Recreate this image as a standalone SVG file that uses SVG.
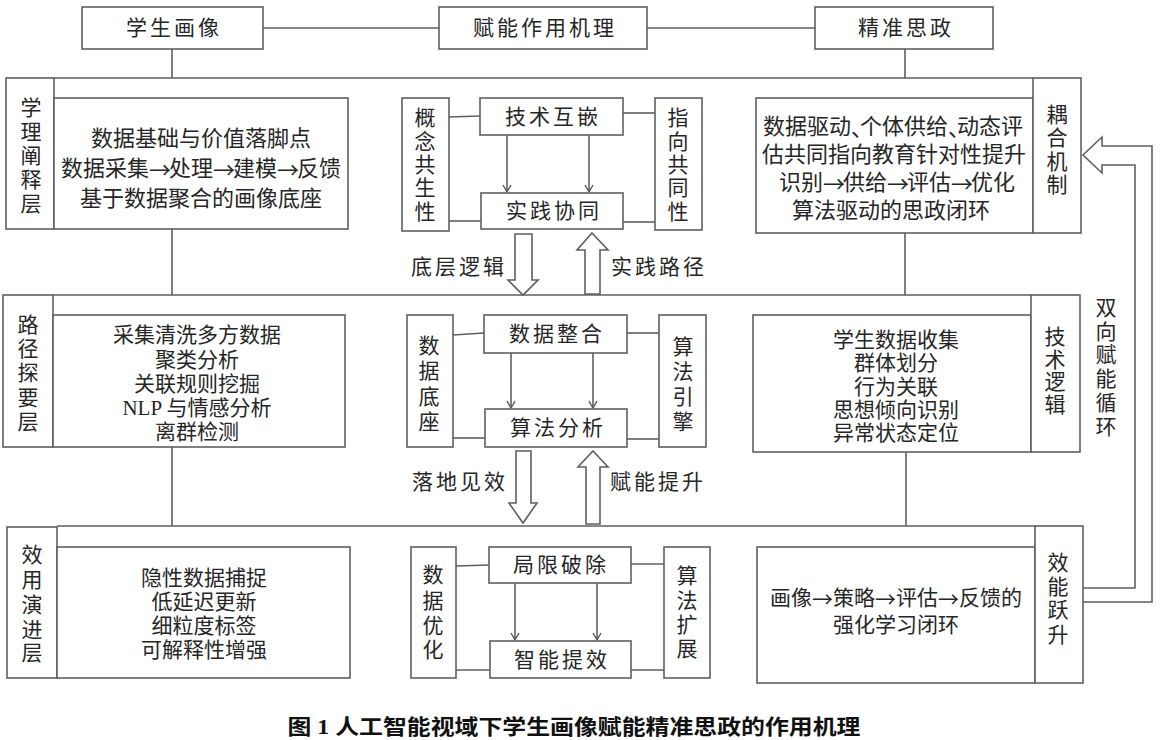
<svg xmlns="http://www.w3.org/2000/svg" width="1163" height="740" viewBox="0 0 1163 740">
<defs>
<style>
text{font-family:"Liberation Serif","Noto Sans CJK SC",serif;fill:#262626;dominant-baseline:central;text-anchor:middle}
.t{font-size:22px}
.s{font-size:21px}
.h{font-size:21px;letter-spacing:3px}
.v{font-size:21px}
.ar{font-family:"Noto Sans CJK SC",sans-serif;letter-spacing:-2px}
.dun{font-family:"Noto Sans CJK SC",sans-serif;letter-spacing:-13px}
.cap{font-size:21px;font-weight:bold;fill:#111}
.box{fill:#fff;stroke:#5f5f5f;stroke-width:1.6}
.ln{stroke:#5f5f5f;stroke-width:1.6;fill:none}
.blk{fill:#fff;stroke:#5f5f5f;stroke-width:1.6;stroke-linejoin:miter}
</style>
<marker id="ah" markerWidth="10" markerHeight="10" refX="8" refY="5" orient="auto" markerUnits="userSpaceOnUse">
<polyline points="1,1 8,5 1,9" fill="none" stroke="#5f5f5f" stroke-width="1.5"/>
</marker>
</defs>
<rect width="1163" height="740" fill="#fff"/>

<g id="connectors">
<line class="ln" x1="263" y1="28" x2="439" y2="28"/>
<line class="ln" x1="647" y1="28" x2="815" y2="28"/>
<line class="ln" x1="172" y1="49" x2="172" y2="78"/>
<line class="ln" x1="905" y1="49" x2="905" y2="78"/>
<line class="ln" x1="54" y1="78" x2="1033" y2="78"/>
<line class="ln" x1="53" y1="295" x2="1031" y2="295"/>
<line class="ln" x1="57" y1="526" x2="1035" y2="526"/>
<line class="ln" x1="172" y1="229" x2="172" y2="295"/>
<line class="ln" x1="172" y1="447" x2="172" y2="526"/>
<line class="ln" x1="905" y1="233" x2="905" y2="295"/>
<line class="ln" x1="906" y1="452" x2="906" y2="526"/>
<line class="ln" x1="449" y1="117" x2="480" y2="116"/>
<line class="ln" x1="623" y1="113" x2="655" y2="113"/>
<line class="ln" x1="449" y1="221" x2="481" y2="221"/>
<line class="ln" x1="623" y1="222" x2="655" y2="222"/>
<line class="ln" x1="507" y1="135" x2="507" y2="192" marker-end="url(#ah)"/>
<line class="ln" x1="589" y1="135" x2="589" y2="192" marker-end="url(#ah)"/>
<line class="ln" x1="453" y1="335" x2="484" y2="333"/>
<line class="ln" x1="627" y1="333" x2="659" y2="333"/>
<line class="ln" x1="453" y1="438" x2="485" y2="438"/>
<line class="ln" x1="627" y1="439" x2="659" y2="439"/>
<line class="ln" x1="511" y1="353" x2="511" y2="408" marker-end="url(#ah)"/>
<line class="ln" x1="593" y1="353" x2="593" y2="408" marker-end="url(#ah)"/>
<line class="ln" x1="456" y1="566" x2="489" y2="565"/>
<line class="ln" x1="631" y1="564" x2="664" y2="564"/>
<line class="ln" x1="456" y1="670" x2="490" y2="670"/>
<line class="ln" x1="631" y1="670" x2="664" y2="670"/>
<line class="ln" x1="515" y1="583" x2="515" y2="640" marker-end="url(#ah)"/>
<line class="ln" x1="597" y1="583" x2="597" y2="640" marker-end="url(#ah)"/>
<path class="blk" d="M515,234 H532 V280 H538 L523,295 L508,280 H515 Z"/>
<path class="blk" d="M592,233 L608,250 H600 V294 H585 V250 H577 Z"/>
<path class="blk" d="M516,451 H531 V503 H537 L523,523 L509,503 H516 Z"/>
<path class="blk" d="M593,451 L608,467 H600 V524 H586 V467 H578 Z"/>
<path class="ln" d="M1083,602 H1152 V146 H1102 V137 L1083,155 L1102,173 V165 H1135 V588 H1083"/>
</g>

<g id="hdr-xsxx"><rect class="box" x="82" y="7" width="181" height="42"/><text class="h" x="174" y="28">学生画像</text></g>
<g id="hdr-fnzy"><rect class="box" x="439" y="7" width="208" height="42"/><text class="h" x="545" y="28">赋能作用机理</text></g>
<g id="hdr-jzsz"><rect class="box" x="815" y="7" width="178" height="42"/><text class="h" x="906" y="28">精准思政</text></g>

<g id="row1-left">
<rect class="box" x="6" y="78" width="48" height="151"/>
<text class="v"><tspan x="31" y="108">学</tspan><tspan x="31" y="132">理</tspan><tspan x="31" y="156">阐</tspan><tspan x="31" y="180">释</tspan><tspan x="31" y="204">层</tspan></text>
<rect class="box" x="54" y="98" width="294" height="131"/>
<text class="t"><tspan x="201" y="138">数据基础与价值落脚点</tspan><tspan x="201" y="168">数据采集<tspan class="ar">→</tspan>处理<tspan class="ar">→</tspan>建模<tspan class="ar">→</tspan>反馈</tspan><tspan x="201" y="198">基于数据聚合的画像底座</tspan></text>
</g>

<g id="row1-mid">
<rect class="box" x="402" y="98" width="47" height="133"/>
<text class="v"><tspan x="425" y="118">概</tspan><tspan x="425" y="142">念</tspan><tspan x="425" y="165">共</tspan><tspan x="425" y="188">生</tspan><tspan x="425" y="212">性</tspan></text>
<rect class="box" x="480" y="98" width="143" height="37"/><text class="h" x="553" y="117">技术互嵌</text>
<rect class="box" x="481" y="193" width="142" height="36"/><text class="h" x="554" y="211">实践协同</text>
<rect class="box" x="655" y="98" width="47" height="132"/>
<text class="v"><tspan x="678" y="118">指</tspan><tspan x="678" y="142">向</tspan><tspan x="678" y="165">共</tspan><tspan x="678" y="188">同</tspan><tspan x="678" y="212">性</tspan></text>
<text class="h" x="459" y="267">底层逻辑</text>
<text class="h" x="659" y="267">实践路径</text>
</g>

<g id="row1-right">
<rect class="box" x="756" y="98" width="277" height="135"/>
<text class="t"><tspan x="893" y="126">数据驱动<tspan class="dun">、</tspan>个体供给<tspan class="dun">、</tspan>动态评</tspan><tspan x="894" y="154">估共同指向教育针对性提升</tspan><tspan x="897" y="182">识别<tspan class="ar">→</tspan>供给<tspan class="ar">→</tspan>评估<tspan class="ar">→</tspan>优化</tspan><tspan x="891" y="210">算法驱动的思政闭环</tspan></text>
<rect class="box" x="1033" y="78" width="48" height="155"/>
<text class="v"><tspan x="1057" y="115">耦</tspan><tspan x="1057" y="138">合</tspan><tspan x="1057" y="162">机</tspan><tspan x="1057" y="185">制</tspan></text>
</g>

<g id="row2-left">
<rect class="box" x="3" y="295" width="50" height="152"/>
<text class="v"><tspan x="28" y="325">路</tspan><tspan x="28" y="349">径</tspan><tspan x="28" y="373">探</tspan><tspan x="28" y="398">要</tspan><tspan x="28" y="422">层</tspan></text>
<rect class="box" x="53" y="315" width="292" height="132"/>
<text class="s"><tspan x="197" y="335">采集清洗多方数据</tspan><tspan x="197" y="360">聚类分析</tspan><tspan x="197" y="384">关联规则挖掘</tspan><tspan x="197" y="408">NLP 与情感分析</tspan><tspan x="197" y="432">离群检测</tspan></text>
</g>

<g id="row2-mid">
<rect class="box" x="407" y="315" width="46" height="132"/>
<text class="v"><tspan x="429" y="346">数</tspan><tspan x="429" y="371">据</tspan><tspan x="429" y="397">底</tspan><tspan x="429" y="422">座</tspan></text>
<rect class="box" x="484" y="315" width="143" height="38"/><text class="h" x="557" y="334">数据整合</text>
<rect class="box" x="485" y="409" width="142" height="38"/><text class="h" x="558" y="428">算法分析</text>
<rect class="box" x="659" y="315" width="47" height="132"/>
<text class="v"><tspan x="683" y="347">算</tspan><tspan x="683" y="372">法</tspan><tspan x="683" y="397">引</tspan><tspan x="683" y="422">擎</tspan></text>
<text class="h" x="460" y="482">落地见效</text>
<text class="h" x="658" y="482">赋能提升</text>
</g>

<g id="row2-right">
<rect class="box" x="753" y="315" width="278" height="137"/>
<text class="s"><tspan x="896" y="340">学生数据收集</tspan><tspan x="896" y="363">群体划分</tspan><tspan x="896" y="387">行为关联</tspan><tspan x="896" y="410">思想倾向识别</tspan><tspan x="896" y="433">异常状态定位</tspan></text>
<rect class="box" x="1031" y="295" width="49" height="157"/>
<text class="v"><tspan x="1055" y="337">技</tspan><tspan x="1055" y="360">术</tspan><tspan x="1055" y="382">逻</tspan><tspan x="1055" y="405">辑</tspan></text>
</g>

<g id="loop-label">
<text class="v"><tspan x="1106" y="308">双</tspan><tspan x="1106" y="332">向</tspan><tspan x="1106" y="355">赋</tspan><tspan x="1106" y="379">能</tspan><tspan x="1106" y="403">循</tspan><tspan x="1106" y="427">环</tspan></text>
</g>

<g id="row3-left">
<rect class="box" x="7" y="527" width="50" height="151"/>
<text class="v"><tspan x="32" y="555">效</tspan><tspan x="32" y="580">用</tspan><tspan x="32" y="605">演</tspan><tspan x="32" y="630">进</tspan><tspan x="32" y="653">层</tspan></text>
<rect class="box" x="57" y="547" width="293" height="131"/>
<text class="s"><tspan x="204" y="578">隐性数据捕捉</tspan><tspan x="204" y="602">低延迟更新</tspan><tspan x="204" y="626">细粒度标签</tspan><tspan x="204" y="650">可解释性增强</tspan></text>
</g>

<g id="row3-mid">
<rect class="box" x="411" y="547" width="45" height="131"/>
<text class="v"><tspan x="433" y="575">数</tspan><tspan x="433" y="601">据</tspan><tspan x="433" y="626">优</tspan><tspan x="433" y="650">化</tspan></text>
<rect class="box" x="489" y="547" width="142" height="36"/><text class="h" x="561" y="565">局限破除</text>
<rect class="box" x="490" y="641" width="141" height="37"/><text class="h" x="562" y="660">智能提效</text>
<rect class="box" x="664" y="547" width="46" height="131"/>
<text class="v"><tspan x="687" y="576">算</tspan><tspan x="687" y="601">法</tspan><tspan x="687" y="625">扩</tspan><tspan x="687" y="649">展</tspan></text>
</g>

<g id="row3-right">
<rect class="box" x="757" y="547" width="278" height="136"/>
<text class="s"><tspan x="896" y="598">画像<tspan class="ar" style="letter-spacing:0">→</tspan>策略<tspan class="ar" style="letter-spacing:0">→</tspan>评估<tspan class="ar" style="letter-spacing:0">→</tspan>反馈的</tspan><tspan x="896" y="625">强化学习闭环</tspan></text>
<rect class="box" x="1035" y="526" width="48" height="157"/>
<text class="v"><tspan x="1058" y="563">效</tspan><tspan x="1058" y="587">能</tspan><tspan x="1058" y="610">跃</tspan><tspan x="1058" y="635">升</tspan></text>
</g>

<text class="cap" x="574" y="727" textLength="573" lengthAdjust="spacingAndGlyphs">图 1  人工智能视域下学生画像赋能精准思政的作用机理</text>
</svg>
